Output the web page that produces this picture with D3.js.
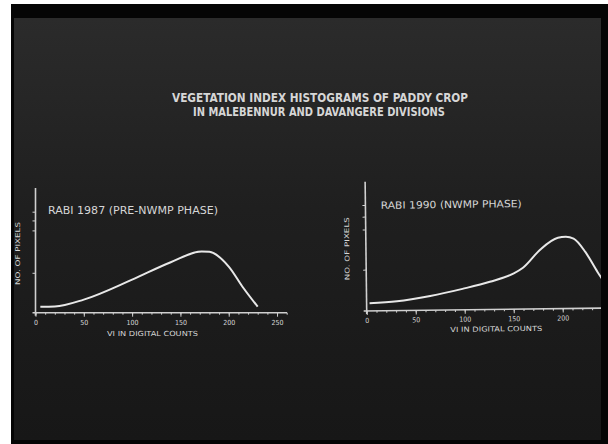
<!DOCTYPE html>
<html>
<head>
<meta charset="utf-8">
<script src="https://cdn.jsdelivr.net/npm/d3@7/dist/d3.min.js"></script>
<style>
html,body{margin:0;padding:0;background:#fff;}
svg{display:block;}
text{font-family:"DejaVu Sans Condensed","DejaVu Sans",sans-serif;fill:#d6d6d6;}
</style>
</head>
<body>
<svg id="chart" width="608" height="444"></svg>
<script>
// ---- data ----
const titleLines = ["VEGETATION INDEX HISTOGRAMS OF PADDY CROP", "IN MALEBENNUR AND DAVANGERE DIVISIONS"];
const subtitles = ["RABI 1987  (PRE-NWMP PHASE)", "RABI 1990  (NWMP PHASE)"];
const xLabel = "VI IN DIGITAL COUNTS";
const yLabel = "NO. OF PIXELS";
const xTickValues = [0, 50, 100, 150, 200, 250];
const leftYTicks = [32, 66, 74, 81];
const rightYTicks = [32, 63, 73, 82];
// VI (digital counts) vs relative number of pixels (0-100)
const vi1987 = [5, 20, 50, 100, 140, 172, 180, 200, 215, 230];
const px1987 = [4.8, 5, 10.5, 26.5, 40.5, 49, 48.8, 37, 20, 4.8];
const vi1990 = [3, 31, 65, 98, 126, 150, 160, 178, 196, 204, 212, 224, 236, 250];
const px1990 = [6, 7.2, 11, 16.2, 21.4, 27.5, 32, 46, 54.8, 55.5, 54, 43.4, 28, 12];

const svg = d3.select("#chart");
const defs = svg.append("defs");
const grad = defs.append("linearGradient").attr("id","bg").attr("x1",0).attr("y1",0).attr("x2",0).attr("y2",1);
grad.append("stop").attr("offset","0%").attr("stop-color","#2b2b2b");
grad.append("stop").attr("offset","45%").attr("stop-color","#1f1f1f");
grad.append("stop").attr("offset","100%").attr("stop-color","#171717");
defs.append("clipPath").attr("id","screen").append("rect").attr("x",14).attr("y",18).attr("width",587).attr("height",422);

// frame
svg.append("rect").attr("x",11).attr("y",4).attr("width",597).attr("height",440).attr("fill","#050505");
svg.append("rect").attr("x",14).attr("y",18).attr("width",587).attr("height",422).attr("fill","url(#bg)");

const root = svg.append("g").attr("clip-path","url(#screen)");

// title
root.append("text").attr("x",172).attr("y",102).attr("font-size",12.5).attr("font-weight","bold").attr("fill","#e2e2e2")
  .attr("textLength",296).attr("lengthAdjust","spacingAndGlyphs").text(titleLines[0]);
root.append("text").attr("x",193).attr("y",116).attr("font-size",12).attr("font-weight","bold").attr("fill","#e2e2e2")
  .attr("textLength",252).attr("lengthAdjust","spacingAndGlyphs").text(titleLines[1]);

function panel(cfg){
  const g = root.append("g").attr("transform", cfg.transform || null);
  const x = d3.scaleLinear().domain([0,260]).range(cfg.xr);
  const y = d3.scaleLinear().domain([0,100]).range(cfg.yr);
  const col = "#d0d0d0";
  // x axis minor ticks
  const xa = g.append("g").attr("transform",`translate(0,${cfg.yr[0]})`)
    .call(d3.axisBottom(x).tickValues(d3.range(0,261,10)).tickSize(2).tickFormat(""));
  xa.select(".domain").remove();
  xa.selectAll("line").attr("stroke",col).attr("stroke-width",1);
  // x axis major ticks with labels
  const xb = g.append("g").attr("transform",`translate(0,${cfg.yr[0]})`)
    .call(d3.axisBottom(x).tickValues(xTickValues.filter(v=>v<=cfg.maxTick)).tickSize(4).tickPadding(3).tickFormat(d3.format("d")));
  xb.select(".domain").remove();
  xb.selectAll("line").attr("stroke",col).attr("stroke-width",1);
  xb.selectAll("text").attr("font-size",7).attr("fill","#c4c4c4").attr("font-family",'"DejaVu Sans Condensed",sans-serif');
  g.append("line").attr("x1",x(0)-3).attr("x2",cfg.xEnd).attr("y1",y(0)).attr("y2",y(0))
    .attr("stroke",col).attr("stroke-width",1.6);
  // y axis
  const ya = g.append("g").attr("transform",`translate(${x(0)},0)`)
    .call(d3.axisLeft(y).tickValues(cfg.yTicks).tickSize(3).tickFormat(""));
  ya.select(".domain").remove();
  ya.selectAll("line").attr("stroke",col).attr("stroke-width",1);
  g.append("line").attr("x1",x(0)).attr("x2",x(0)).attr("y1",y(0)+3).attr("y2",y(100))
    .attr("stroke",col).attr("stroke-width",1.6);
  // curve
  const pts = cfg.vi.map((v,i)=>[v,cfg.px[i]]);
  g.append("path").datum(pts)
    .attr("d", d3.line().x(d=>x(d[0])).y(d=>y(d[1])).curve(d3.curveMonotoneX))
    .attr("fill","none").attr("stroke","#e8e8e8").attr("stroke-width",2);
  // labels
  g.append("text").attr("x",cfg.sub[0]).attr("y",cfg.sub[1]).attr("font-size",10)
    .attr("textLength",cfg.sub[2]).attr("lengthAdjust","spacingAndGlyphs").text(cfg.subtitle);
  g.append("text").attr("x",cfg.xl[0]).attr("y",cfg.xl[1]).attr("font-size",7)
    .attr("fill","#c4c4c4").attr("textLength",cfg.xl[2]).attr("lengthAdjust","spacingAndGlyphs").text(xLabel);
  g.append("text").attr("transform",`translate(${cfg.yl[0]},${cfg.yl[1]}) rotate(-90)`)
    .attr("font-size",6.5).attr("fill","#c4c4c4").attr("textLength",cfg.yl[2]).attr("lengthAdjust","spacingAndGlyphs")
    .text(yLabel);
}

panel({
  xr:[35.5,286.7], yr:[312.7,188], xEnd:287, yTicks:leftYTicks, maxTick:250,
  vi:vi1987, px:px1987, subtitle:subtitles[0],
  sub:[48,214,170], xl:[107,336,91], yl:[20,285,63]
});
panel({
  xr:[366.7,621.5], yr:[311,181.7], xEnd:640, yTicks:rightYTicks, maxTick:200,
  vi:vi1990, px:px1990, subtitle:subtitles[1],
  sub:[382,209,141], xl:[450,333,92], yl:[350,280,63],
  transform:"rotate(-0.7 366 311)"
});
</script>
</body>
</html>
